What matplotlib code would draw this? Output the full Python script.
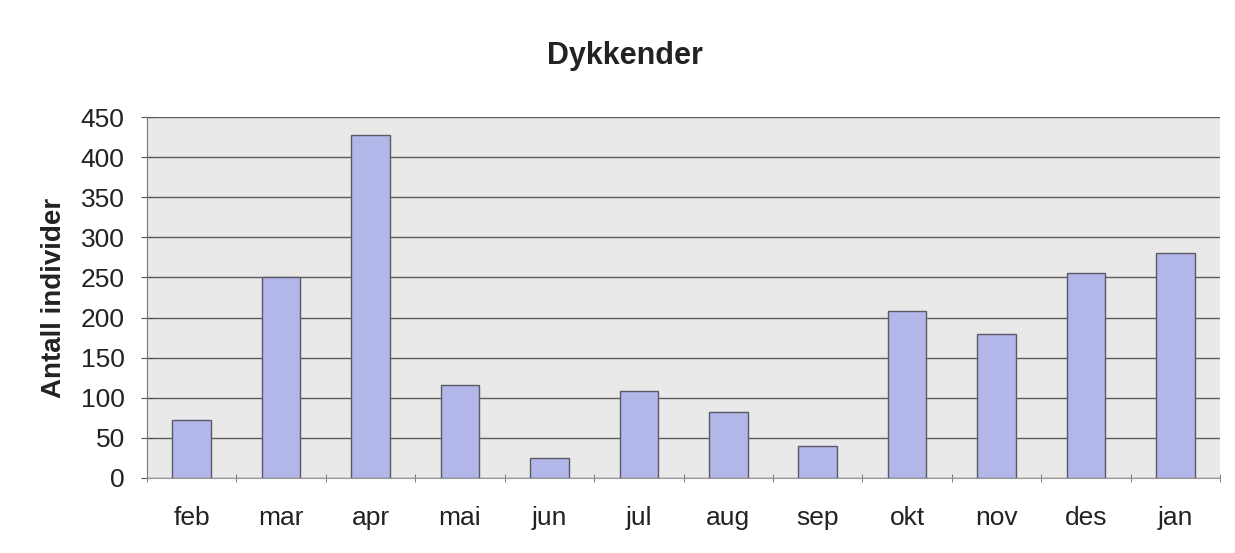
import matplotlib
matplotlib.use('Agg')
import matplotlib.pyplot as plt
import numpy as np

plt.rcParams['font.family'] = ['Liberation Sans', 'DejaVu Sans']

# Data
months = ['feb', 'mar', 'apr', 'mai', 'jun', 'jul', 'aug', 'sep', 'okt', 'nov', 'des', 'jan']
counts = [72, 250, 428, 116, 25, 108, 82, 40, 208, 180, 255, 280]
yticks = [0, 50, 100, 150, 200, 250, 300, 350, 400, 450]

fig = plt.figure(figsize=(12.35, 5.53), dpi=100)
ax = fig.add_axes([0.119, 0.136, 0.869, 0.652])

ax.set_facecolor('#e9e9e9')
ax.bar(range(len(months)), counts, width=0.43, color='#b3b6e8',
       edgecolor='#5a5a66', linewidth=1.0, zorder=3)

ax.set_xlim(-0.5, len(months) - 0.5)
ax.set_ylim(0, 450)
ax.set_yticks(yticks)
ax.yaxis.grid(True, color='#5c5c5c', linewidth=1.0, zorder=1)
ax.set_axisbelow(True)

ax.set_xticks(range(len(months)))
ax.set_xticklabels(months, color='#222222')
# small marks between the categories
ax.set_xticks(np.arange(len(months) + 1) - 0.5, minor=True)
ax.tick_params(axis='x', which='major', length=0, labelsize=19, pad=20)
ax.tick_params(axis='x', which='minor', direction='inout', length=6,
               color='#666666')
ax.tick_params(axis='y', direction='inout', length=8, labelsize=19,
               color='#555555', labelcolor='#222222', pad=12)

for side in ['top', 'right']:
    ax.spines[side].set_visible(False)
ax.spines['left'].set_color('#777777')
ax.spines['bottom'].set_color('#999999')

ax.set_ylabel('Antall individer', fontsize=20, fontweight='bold',
              color='#222222', labelpad=10)
fig.text(0.506, 0.898, 'Dykkender', ha='center', va='center',
         fontsize=22, fontweight='bold', color='#222222')

fig.savefig('out.png', dpi=100, facecolor='white')
